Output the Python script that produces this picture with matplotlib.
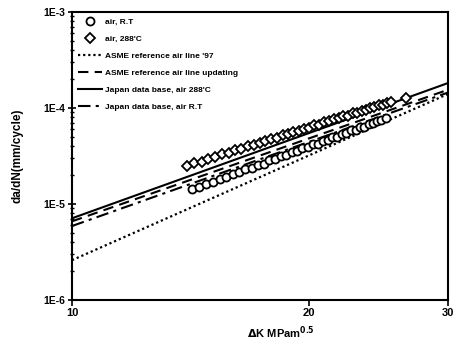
import matplotlib
matplotlib.use("Agg")
import matplotlib.pyplot as plt
from matplotlib.ticker import FixedLocator, NullFormatter, LogLocator

plt.rcParams['font.family'] = ['Liberation Sans', 'DejaVu Sans']
plt.rcParams['font.weight'] = 'bold'

# Experimental data: air, room temperature (circles)
dk_rt = [14.2, 14.5, 14.8, 15.1, 15.4, 15.7, 16.0, 16.3, 16.6, 16.9, 17.2, 17.5,
         17.8, 18.1, 18.4, 18.7, 19.0, 19.3, 19.6, 19.9, 20.2, 20.5, 20.8, 21.1,
         21.4, 21.7, 22.0, 22.3, 22.6, 22.9, 23.2, 23.5, 23.8, 24.1, 24.4, 24.7, 25.0]
dadn_rt = [1.43e-5, 1.50e-5, 1.63e-5, 1.70e-5, 1.84e-5, 1.91e-5, 2.07e-5, 2.14e-5,
           2.30e-5, 2.38e-5, 2.57e-5, 2.64e-5, 2.85e-5, 2.92e-5, 3.14e-5, 3.22e-5,
           3.47e-5, 3.54e-5, 3.80e-5, 3.89e-5, 4.17e-5, 4.24e-5, 4.55e-5, 4.62e-5,
           4.95e-5, 5.03e-5, 5.39e-5, 5.46e-5, 5.84e-5, 5.90e-5, 6.32e-5, 6.38e-5,
           6.82e-5, 6.90e-5, 7.33e-5, 7.42e-5, 7.85e-5]

# Experimental data: air, 288 C (diamonds)
dk_288 = [14.0, 14.3, 14.6, 14.9, 15.2, 15.5, 15.8, 16.1, 16.4, 16.7, 17.0, 17.3,
          17.6, 17.9, 18.2, 18.5, 18.8, 19.1, 19.4, 19.7, 20.0, 20.3, 20.6, 20.9,
          21.2, 21.5, 21.8, 22.1, 22.4, 22.7, 23.0, 23.3, 23.6, 23.9, 24.2, 24.5,
          24.8, 25.1, 25.4, 26.5]
dadn_288 = [2.50e-5, 2.66e-5, 2.76e-5, 2.97e-5, 3.06e-5, 3.28e-5, 3.39e-5, 3.62e-5,
            3.73e-5, 3.98e-5, 4.10e-5, 4.36e-5, 4.48e-5, 4.75e-5, 4.88e-5, 5.18e-5,
            5.31e-5, 5.62e-5, 5.76e-5, 6.09e-5, 6.24e-5, 6.58e-5, 6.72e-5, 7.09e-5,
            7.24e-5, 7.62e-5, 7.79e-5, 8.19e-5, 8.35e-5, 8.78e-5, 8.94e-5, 9.39e-5,
            9.55e-5, 1.00e-4, 1.02e-4, 1.07e-4, 1.08e-4, 1.13e-4, 1.15e-4, 1.28e-4]

# Reference lines (end points at dK = 10 and 30)
dk_line = [10, 30]
asme_97 = [2.6e-6, 1.40e-4]
asme_upd = [6.6e-6, 1.55e-4]
japan_288 = [7.1e-6, 1.82e-4]
japan_rt = [5.9e-6, 1.45e-4]

x_ticks = [10, 20, 30]
x_ticklabels = ['10', '20', '30']
y_ticks = [1e-6, 1e-5, 1e-4, 1e-3]
y_ticklabels = ['1E-6', '1E-5', '1E-4', '1E-3']

fig = plt.figure(figsize=(4.54, 3.47), dpi=100)
ax = fig.add_axes([0.1586, 0.1354, 0.8282, 0.830])

ax.plot(dk_rt, dadn_rt, linestyle='none', marker='o', markersize=5.8,
        markerfacecolor='white', markeredgecolor='black', markeredgewidth=1.3,
        label='air, R.T', zorder=4)
ax.plot(dk_288, dadn_288, linestyle='none', marker='D', markersize=5.2,
        markerfacecolor='white', markeredgecolor='black', markeredgewidth=1.3,
        label="air, 288'C", zorder=4)
ax.plot(dk_line, asme_97, color='black', linestyle=(0, (1, 1.3)), linewidth=1.6,
        label="ASME reference air line '97")
ax.plot(dk_line, asme_upd, color='black', linestyle=(0, (5, 3)), linewidth=1.5,
        label='ASME reference air line updating')
ax.plot(dk_line, japan_288, color='black', linestyle='-', linewidth=1.5,
        label="Japan data base, air 288'C")
ax.plot(dk_line, japan_rt, color='black', linestyle=(0, (6, 2.5, 1.5, 2.5)),
        linewidth=1.5, label='Japan data base, air R.T')

ax.set_xscale('log')
ax.set_yscale('log')
ax.set_xlim(10, 30)
ax.set_ylim(1e-6, 1e-3)

ax.xaxis.set_major_locator(FixedLocator(x_ticks))
ax.set_xticklabels(x_ticklabels)
ax.xaxis.set_minor_locator(FixedLocator([]))
ax.xaxis.set_minor_formatter(NullFormatter())
ax.yaxis.set_major_locator(FixedLocator(y_ticks))
ax.set_yticklabels(y_ticklabels)
ax.yaxis.set_minor_locator(LogLocator(base=10, subs=range(2, 10)))
ax.yaxis.set_minor_formatter(NullFormatter())

ax.tick_params(axis='x', which='major', direction='out', length=4, width=1.2,
               labelsize=8, pad=2)
ax.tick_params(axis='y', which='major', direction='inout', length=6, width=1.2,
               labelsize=7.5, pad=2)
ax.tick_params(axis='y', which='minor', direction='inout', length=3, width=1.0)
ax.tick_params(top=False, right=False)

for side in ['left', 'bottom', 'top', 'right']:
    ax.spines[side].set_linewidth(1.5)

ax.set_ylabel('da/dN(mm/cycle)', fontsize=8.5, fontweight='bold')
ax.yaxis.set_label_coords(-0.13, 0.5)
ax.set_xlabel(r'$\Delta$K MPam$^{0.5}$', fontsize=8, fontweight='bold')
ax.xaxis.set_label_coords(0.555, -0.085)

leg = ax.legend(loc='upper left', frameon=False, handlelength=2.9,
                handletextpad=0.3, labelspacing=1.1, borderaxespad=0.3,
                prop={'weight': 'bold', 'size': 6})

fig.savefig('out.png', dpi=100)
